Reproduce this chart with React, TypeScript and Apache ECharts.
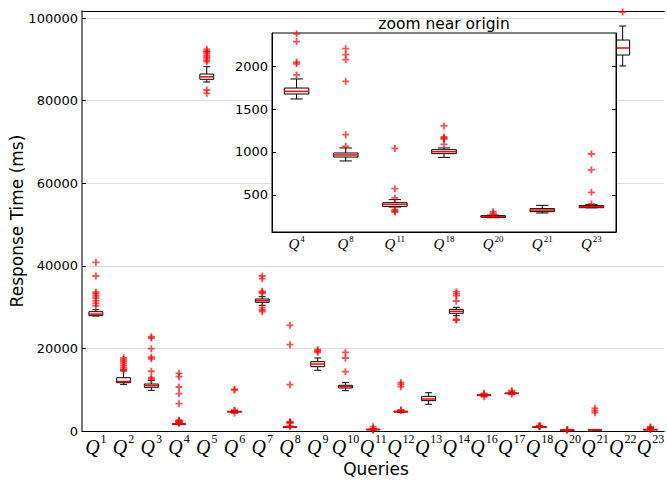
import React, { useEffect, useRef } from "react";
import * as echarts from "echarts";

// Query numbers (x categories)
const categories = ["1", "2", "3", "4", "5", "6", "7", "8", "9", "10", "11", "12", "13", "14", "16", "17", "18", "20", "21", "22", "23"];

// [lower whisker, Q1, median, Q3, upper whisker] per query (ms)
const boxStats: number[][] = [
  [27850, 27920, 28300, 28890, 29370],
  [11300, 11700, 12000, 12900, 14530],
  [9850, 10580, 11000, 11380, 12280],
  [1619, 1677, 1708, 1747, 1853],
  [84500, 85160, 85760, 86440, 88210],
  [4450, 4600, 4680, 4760, 4880],
  [30440, 31160, 31550, 31960, 32520],
  [895, 941, 965, 988, 1047],
  [14700, 15580, 16220, 16790, 17680],
  [9760, 10410, 10740, 11070, 11700],
  [357, 364, 388, 408, 443],
  [4450, 4600, 4680, 4780, 4900],
  [6470, 7340, 7750, 8390, 9270],
  [27920, 28500, 28980, 29460, 29950],
  [8450, 8600, 8680, 8760, 8850],
  [8950, 9050, 9110, 9180, 9260],
  [937, 980, 1003, 1027, 1047],
  [232, 236, 244, 256, 262],
  [287, 303, 322, 338, 376],
  [88380, 91040, 92740, 94670, 98060],
  [348, 349, 361, 373, 384],
];

// Outlier response times per query (ms)
const outliers: number[][] = [
  [40850, 37530, 33600, 33200, 32700, 32200, 31500, 30900, 30300],
  [17700, 17300, 16900, 16400, 15900, 15400, 15000, 14800],
  [22830, 22500, 19930, 17850, 17500, 14460, 12900, 12500],
  [13970, 13160, 10650, 9030, 6610, 2600, 2450, 2380, 2290, 2050, 2030, 1900],
  [92420, 92000, 91770, 91300, 90800, 90320, 89800, 89420, 82570, 81770],
  [10100, 9950, 5050, 4950, 4350],
  [37530, 36890, 33830, 33600, 33340, 29860, 29300, 28890],
  [25590, 20900, 11210, 2207, 2137, 2078, 1825, 1202, 1066],
  [19690, 19370, 19060],
  [19060, 17680, 14360],
  [1042, 571, 463, 326, 311, 299],
  [11700, 11300, 10730, 5100, 4950],
  [],
  [33740, 33250, 32760, 31480, 27000, 26880],
  [9100, 8950, 8300],
  [9760, 9500, 8900],
  [1304, 1176, 1160, 1152, 1089],
  [303, 283, 268],
  [5500, 4950, 4430],
  [101450],
  [976, 790, 528, 392],
];

// Queries shown in the "zoom near origin" inset
const insetCategories = ["4", "8", "11", "18", "20", "21", "23"];

const mainYTicks = [0, 20000, 40000, 60000, 80000, 100000];
const insetYTicks = [500, 1000, 1500, 2000];

const PLUS = "path://M3.7,0H6.3V3.7H10V6.3H6.3V10H3.7V6.3H0V3.7H3.7Z";

const renderBox = (params: any, api: any) => {
  const x = api.value(0);
  const low = api.coord([x, api.value(1)]);
  const q1 = api.coord([x, api.value(2)]);
  const med = api.coord([x, api.value(3)]);
  const q3 = api.coord([x, api.value(4)]);
  const high = api.coord([x, api.value(5)]);
  const band = api.size([1, 0])[0];
  const bw = band * 0.5;
  const cw = band * 0.25;
  const cx = low[0];
  const black = { stroke: "#000", lineWidth: 1 };
  return {
    type: "group",
    children: [
      { type: "line", shape: { x1: cx, y1: high[1], x2: cx, y2: q3[1] }, style: black },
      { type: "line", shape: { x1: cx, y1: low[1], x2: cx, y2: q1[1] }, style: black },
      { type: "line", shape: { x1: cx - cw / 2, y1: high[1], x2: cx + cw / 2, y2: high[1] }, style: black },
      { type: "line", shape: { x1: cx - cw / 2, y1: low[1], x2: cx + cw / 2, y2: low[1] }, style: black },
      {
        type: "rect",
        shape: { x: cx - bw / 2, y: q3[1], width: bw, height: Math.max(q1[1] - q3[1], 0.5) },
        style: { fill: "#fff", stroke: "#000", lineWidth: 1 },
      },
      { type: "line", shape: { x1: cx - bw / 2, y1: med[1], x2: cx + bw / 2, y2: med[1] }, style: { stroke: "#ff0000", lineWidth: 1.5 } },
    ],
  };
};

const labelRich = (qSize: number, sSize: number, qLine: number) => ({
  q: { fontFamily: "Liberation Serif", fontStyle: "italic", fontSize: qSize, color: "#000", lineHeight: qLine },
  s: { fontFamily: "Liberation Serif", fontSize: sSize, color: "#000", verticalAlign: "top", lineHeight: sSize + 1, padding: [0, 0, 0, 1] },
});

export default function App() {
  const ref = useRef<HTMLDivElement>(null);

  useEffect(() => {
    document.body.style.margin = "0";
    if (!ref.current) return;
    const chart = echarts.init(ref.current, undefined, { renderer: "svg" });

    const mainBoxData = boxStats.map((s, i) => [i, ...s]);
    const mainOutData: number[][] = [];
    outliers.forEach((arr, i) => arr.forEach((v) => mainOutData.push([i, v])));

    const insetBoxData = insetCategories.map((c, j) => [j, ...boxStats[categories.indexOf(c)]]);
    const insetOutData: number[][] = [];
    insetCategories.forEach((c, j) => outliers[categories.indexOf(c)].forEach((v) => insetOutData.push([j, v])));

    const font = "DejaVu Sans";

    chart.setOption({
      animation: false,
      grid: [
        { left: 82, top: 11, right: -3, bottom: 49, show: false },
        { left: 272, top: 33, width: 344, height: 199, show: true, backgroundColor: "#fff", borderColor: "#000", borderWidth: 1, z: 5 },
      ],
      xAxis: [
        {
          type: "category",
          gridIndex: 0,
          data: categories,
          boundaryGap: true,
          axisLine: { lineStyle: { color: "#000", width: 1 } },
          axisTick: { inside: true, alignWithLabel: true, length: 4, lineStyle: { color: "#000" } },
          axisLabel: {
            interval: 0,
            margin: 2,
            formatter: (v: string) => `{q|Q}{s|${v}}`,
            rich: labelRich(20, 12, 27),
          },
          splitLine: { show: false },
        },
        {
          type: "category",
          gridIndex: 0,
          position: "top",
          data: categories,
          boundaryGap: true,
          axisLine: { lineStyle: { color: "#000", width: 1 } },
          axisTick: { inside: true, alignWithLabel: true, length: 4, lineStyle: { color: "#000" } },
          axisLabel: { show: false },
          splitLine: { show: false },
        },
        {
          type: "category",
          gridIndex: 1,
          data: insetCategories,
          boundaryGap: true,
          z: 6,
          axisLine: { lineStyle: { color: "#000", width: 1 } },
          axisTick: { inside: true, alignWithLabel: true, length: 4, lineStyle: { color: "#000" } },
          axisLabel: {
            interval: 0,
            margin: 2,
            formatter: (v: string) => `{q|Q}{s|${v}}`,
            rich: labelRich(15, 9, 20),
          },
          splitLine: { show: false },
        },
      ],
      yAxis: [
        {
          type: "value",
          gridIndex: 0,
          min: 0,
          max: 101700,
          interval: 20000,
          axisLine: { show: true, lineStyle: { color: "#777", width: 2 } },
          axisTick: { show: true, inside: true, length: 4, lineStyle: { color: "#000" }, customValues: mainYTicks },
          axisLabel: {
            fontFamily: font,
            fontSize: 13,
            color: "#000",
            margin: 4,
            customValues: mainYTicks,
            formatter: (v: number) => (v % 20000 === 0 ? String(v) : ""),
          },
          splitLine: { show: true, lineStyle: { color: "#dddddd", width: 1 } },
        },
        {
          type: "value",
          gridIndex: 1,
          min: 65,
          max: 2390,
          z: 6,
          axisLine: { show: true, lineStyle: { color: "#000", width: 1 } },
          axisTick: { show: true, inside: true, length: 4, lineStyle: { color: "#000" }, customValues: insetYTicks },
          axisLabel: {
            fontFamily: font,
            fontSize: 13,
            color: "#000",
            margin: 4,
            customValues: insetYTicks,
            formatter: (v: number) => (v % 500 === 0 ? String(v) : ""),
          },
          splitLine: { show: false },
        },
        {
          type: "value",
          gridIndex: 1,
          position: "right",
          min: 65,
          max: 2390,
          z: 6,
          axisLine: { show: true, lineStyle: { color: "#000", width: 1 } },
          axisTick: { show: true, inside: true, length: 4, lineStyle: { color: "#000" }, customValues: insetYTicks },
          axisLabel: { show: false },
          splitLine: { show: false },
        },
      ],
      graphic: [
        {
          type: "text",
          x: 17,
          y: 221,
          rotation: Math.PI / 2,
          style: { text: "Response Time (ms)", font: `17px "${font}"`, fill: "#000", textAlign: "center", textVerticalAlign: "middle" },
        },
        {
          type: "text",
          x: 376,
          y: 469,
          style: { text: "Queries", font: `17px "${font}"`, fill: "#000", textAlign: "center", textVerticalAlign: "middle" },
        },
        {
          type: "text",
          x: 444,
          y: 24,
          z: 10,
          style: { text: "zoom near origin", font: `15.5px "${font}"`, fill: "#000", textAlign: "center", textVerticalAlign: "middle" },
        },
      ],
      series: [
        {
          type: "custom",
          xAxisIndex: 0,
          yAxisIndex: 0,
          renderItem: renderBox,
          data: mainBoxData,
          encode: { x: 0, y: [1, 2, 3, 4, 5] },
          clip: true,
          z: 2,
        },
        {
          type: "scatter",
          xAxisIndex: 0,
          yAxisIndex: 0,
          data: mainOutData,
          symbol: PLUS,
          symbolSize: 7,
          itemStyle: { color: "rgba(255,0,0,0.85)" },
          clip: false,
          z: 3,
        },
        {
          type: "custom",
          xAxisIndex: 2,
          yAxisIndex: 1,
          renderItem: renderBox,
          data: insetBoxData,
          encode: { x: 0, y: [1, 2, 3, 4, 5] },
          clip: true,
          z: 7,
        },
        {
          type: "scatter",
          xAxisIndex: 2,
          yAxisIndex: 1,
          data: insetOutData,
          symbol: PLUS,
          symbolSize: 7,
          itemStyle: { color: "rgba(255,0,0,0.85)" },
          clip: true,
          z: 8,
        },
      ],
    });

    return () => chart.dispose();
  }, []);

  return <div ref={ref} style={{ width: 667, height: 480 }} />;
}
